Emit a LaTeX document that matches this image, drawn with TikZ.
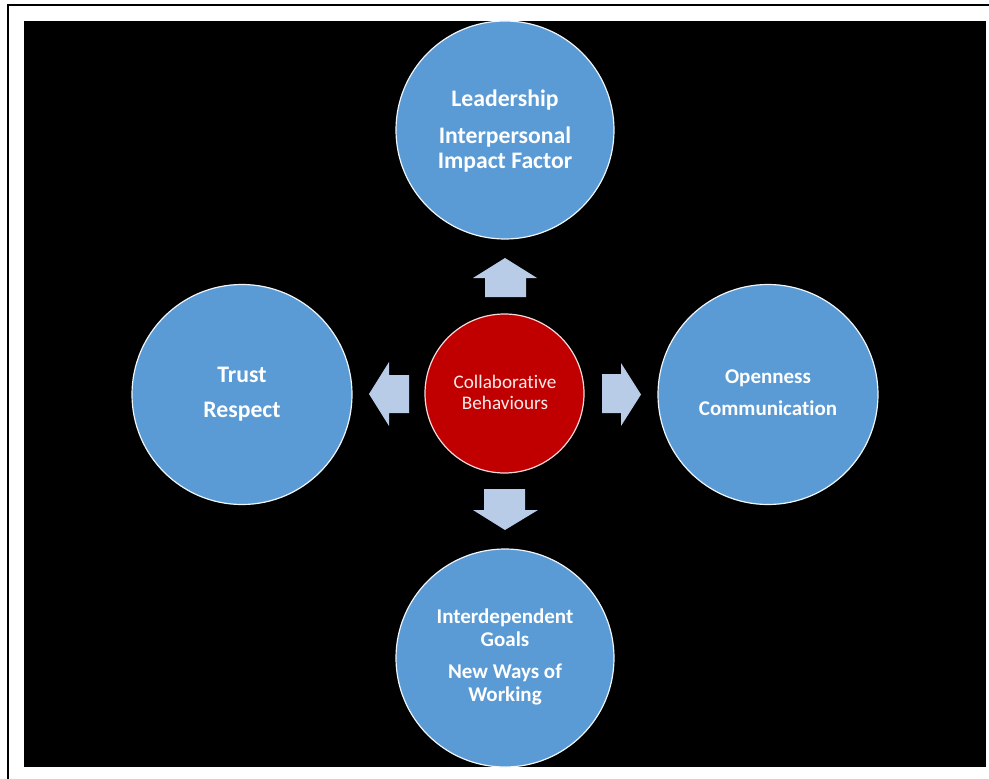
\documentclass[tikz,border=0pt]{standalone}
\usepackage{fontspec}
\setmainfont{Carlito}[Ligatures=NoCommon]
\definecolor{bubbleblue}{HTML}{5B9BD5}
\definecolor{hubred}{HTML}{C00000}
\definecolor{arrowblue}{HTML}{B8CCE8}
\begin{document}
\begin{tikzpicture}[x=1pt,y=-1pt,
  bubble/.style={circle, fill=bubbleblue, draw=white!90!bubbleblue, line width=1.2pt, minimum size=218pt, inner sep=0pt},
  hub/.style={circle, fill=hubred, draw=white!85!hubred, line width=1.2pt, minimum size=159pt, inner sep=0pt},
  caption/.style={text=white, font=\bfseries\fontsize{21}{25}\selectfont, anchor=base, inner sep=0pt},
  bigcaption/.style={caption, font=\bfseries\fontsize{23.7}{28}\selectfont},
  hubtext/.style={text=white!92!hubred, font=\fontsize{19.2}{22}\selectfont, anchor=base, inner sep=0pt},
  blockarrow/.style={fill=arrowblue, draw=none}]
\useasboundingbox (0,0) rectangle (989,779);
% page frame and dark slide area
\draw[line width=1.8pt] (7.8,779) -- (7.8,5) -- (989,5);
\fill[black] (24,21) rectangle (986,767);

% outer bubbles and the central hub
\node[bubble] (top) at (505,130) {};
\node[bubble, minimum size=220pt] (left) at (242,394.5) {};
\node[bubble, minimum size=220pt] (right) at (768,394.5) {};
\node[bubble] (bottom) at (505,658) {};
\node[hub] (hub) at (504.5,393.5) {};

% block arrows from the hub outwards
\fill[blockarrow] (505,258) -- (537,278) -- (526,278) -- (526,297) -- (485,297) -- (485,278) -- (473,278) -- cycle;
\fill[blockarrow] (505,530) -- (538,510) -- (525,510) -- (525,489) -- (484,489) -- (484,510) -- (473,510) -- cycle;
\fill[blockarrow] (369,394) -- (389,362) -- (389,375) -- (409,375) -- (409,413) -- (389,413) -- (389,426) -- cycle;
\fill[blockarrow] (641,394.5) -- (621,363) -- (621,374) -- (602,374) -- (602,413) -- (621,413) -- (621,426) -- cycle;

% hub text
\node[hubtext] (hub1) at (505,388) {Collaborative};
\node[hubtext] (hub2) at (505,409) {Behaviours};

% top bubble text
\node[bigcaption] (top1) at (505,106) {Leadership};
\node[bigcaption] (top2) at (505,143) {Interpersonal};
\node[bigcaption] (top3) at (505,168) {Impact Factor};

% left bubble text
\node[bigcaption] (left1) at (242,382) {Trust};
\node[bigcaption] (left2) at (242,417) {Respect};

% right bubble text
\node[caption] (right1) at (768,383) {Openness};
\node[caption] (right2) at (768,415) {Communication};

% bottom bubble text
\node[caption] (bot1) at (505,623) {Interdependent};
\node[caption] (bot2) at (505,646) {Goals};
\node[caption] (bot3) at (505,678) {New Ways of};
\node[caption] (bot4) at (505,701) {Working};
\end{tikzpicture}
\end{document}
